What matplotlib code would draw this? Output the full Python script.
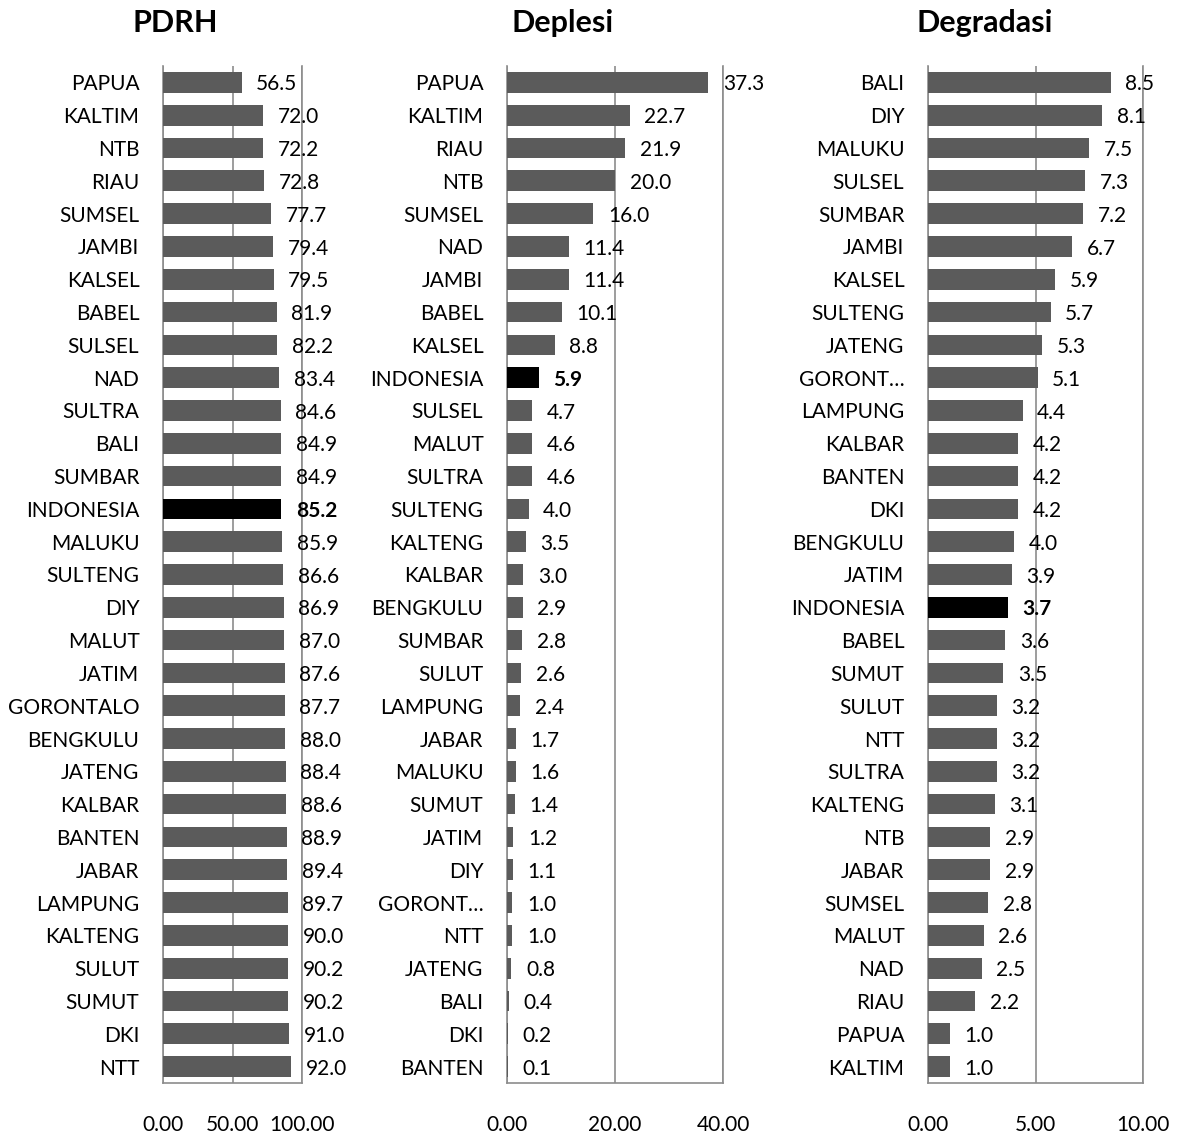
import matplotlib
matplotlib.use("Agg")
import matplotlib.pyplot as plt

plt.rcParams['font.family'] = ['Lato', 'DejaVu Sans']

pdrh_labels = ["PAPUA", "KALTIM", "NTB", "RIAU", "SUMSEL", "JAMBI", "KALSEL", "BABEL", "SULSEL", "NAD",
               "SULTRA", "BALI", "SUMBAR", "INDONESIA", "MALUKU", "SULTENG", "DIY", "MALUT", "JATIM",
               "GORONTALO", "BENGKULU", "JATENG", "KALBAR", "BANTEN", "JABAR", "LAMPUNG", "KALTENG",
               "SULUT", "SUMUT", "DKI", "NTT"]
pdrh_values = [56.5, 72.0, 72.2, 72.8, 77.7, 79.4, 79.5, 81.9, 82.2, 83.4, 84.6, 84.9, 84.9, 85.2, 85.9,
               86.6, 86.9, 87.0, 87.6, 87.7, 88.0, 88.4, 88.6, 88.9, 89.4, 89.7, 90.0, 90.2, 90.2, 91.0, 92.0]

depl_labels = ["PAPUA", "KALTIM", "RIAU", "NTB", "SUMSEL", "NAD", "JAMBI", "BABEL", "KALSEL", "INDONESIA",
               "SULSEL", "MALUT", "SULTRA", "SULTENG", "KALTENG", "KALBAR", "BENGKULU", "SUMBAR", "SULUT",
               "LAMPUNG", "JABAR", "MALUKU", "SUMUT", "JATIM", "DIY", "GORONT…", "NTT", "JATENG", "BALI",
               "DKI", "BANTEN"]
depl_values = [37.3, 22.7, 21.9, 20.0, 16.0, 11.4, 11.4, 10.1, 8.8, 5.9, 4.7, 4.6, 4.6, 4.0, 3.5, 3.0, 2.9,
               2.8, 2.6, 2.4, 1.7, 1.6, 1.4, 1.2, 1.1, 1.0, 1.0, 0.8, 0.4, 0.2, 0.1]

degr_labels = ["BALI", "DIY", "MALUKU", "SULSEL", "SUMBAR", "JAMBI", "KALSEL", "SULTENG", "JATENG", "GORONT…",
               "LAMPUNG", "KALBAR", "BANTEN", "DKI", "BENGKULU", "JATIM", "INDONESIA", "BABEL", "SUMUT",
               "SULUT", "NTT", "SULTRA", "KALTENG", "NTB", "JABAR", "SUMSEL", "MALUT", "NAD", "RIAU",
               "PAPUA", "KALTIM"]
degr_values = [8.5, 8.1, 7.5, 7.3, 7.2, 6.7, 5.9, 5.7, 5.3, 5.1, 4.4, 4.2, 4.2, 4.2, 4.0, 3.9, 3.7, 3.6, 3.5,
               3.2, 3.2, 3.2, 3.1, 2.9, 2.9, 2.8, 2.6, 2.5, 2.2, 1.0, 1.0]

titles = ["PDRH", "Deplesi", "Degradasi"]
xmaxes = [100, 40, 10]
xticks = [[0, 50, 100], [0, 20, 40], [0, 5, 10]]
xticklabels = [["0.00", "50.00", "100.00"], ["0.00", "20.00", "40.00"], ["0.00", "5.00", "10.00"]]

W, H = 1184, 1138
fig = plt.figure(figsize=(W / 100, H / 100), dpi=100)

# axes boxes in pixels: left, right
boxes = [(163, 302), (507, 723), (928, 1143)]
top_px, bot_px = 66, 1083
title_x = [175, 563, 985]

datasets = [(pdrh_labels, pdrh_values), (depl_labels, depl_values), (degr_labels, degr_values)]
bar_color = "#5b5b5b"
grid_color = "#8c8c8c"
FS = 15

for i, ((labels, values), (l, r)) in enumerate(zip(datasets, boxes)):
    ax = fig.add_axes([l / W, 1 - bot_px / H, (r - l) / W, (bot_px - top_px) / H])
    n = len(labels)
    ypos = list(range(n))
    colors = ["black" if lab == "INDONESIA" else bar_color for lab in labels]
    ax.barh(ypos, values, height=0.63, color=colors, zorder=3)
    ax.set_ylim(n - 0.5, -0.5)
    ax.set_xlim(0, xmaxes[i])
    ax.set_yticks(ypos)
    ax.set_yticklabels(labels, fontsize=FS)
    ax.set_xticks(xticks[i])
    ax.set_xticklabels(xticklabels[i], fontsize=FS)
    ax.tick_params(axis='y', length=0, pad=17)
    ax.tick_params(axis='x', length=0, pad=23)
    ax.xaxis.grid(True, color=grid_color, linewidth=1.2, zorder=1)
    ax.yaxis.grid(False)
    for s in ["left", "right", "bottom"]:
        ax.spines[s].set_color(grid_color)
        ax.spines[s].set_linewidth(1.2)
    ax.spines["top"].set_visible(False)
    for y, v, lab in zip(ypos, values, labels):
        ax.annotate(f"{v:.1f}", xy=(v, y), xytext=(10.5, -1.5), textcoords="offset points",
                    ha="left", va="center", fontsize=FS,
                    fontweight="bold" if lab == "INDONESIA" else "normal",
                    annotation_clip=False, zorder=4)
    fig.text(title_x[i] / W, 1 - 23 / H, titles[i], ha="center", va="center",
             fontsize=22, fontweight="bold")

fig.savefig("out.png", dpi=100)
